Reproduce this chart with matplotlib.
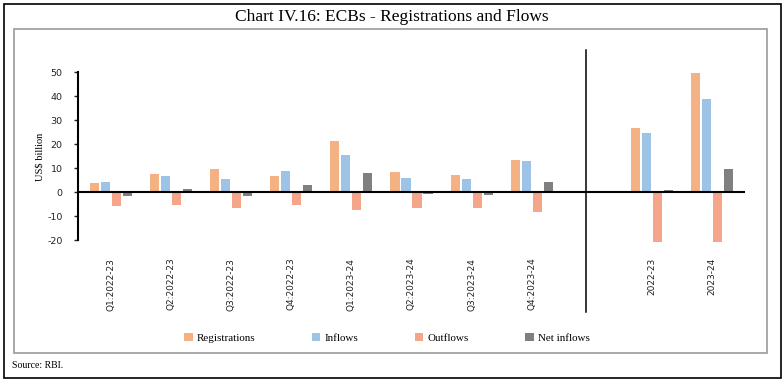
import matplotlib.pyplot as plt
from matplotlib.patches import Rectangle
from matplotlib.lines import Line2D
import numpy as np

plt.rcParams['axes.unicode_minus'] = False

# Data (US$ billion)
categories = ["Q1:2022-23", "Q2:2022-23", "Q3:2022-23", "Q4:2022-23",
              "Q1:2023-24", "Q2:2023-24", "Q3:2023-24", "Q4:2023-24",
              "", "2022-23", "2023-24"]
registrations = [3.9, 7.4, 9.6, 6.5, 21.4, 8.2, 7.2, 13.3, 0, 26.8, 49.7]
inflows = [4.3, 6.8, 5.3, 8.6, 15.4, 5.8, 5.3, 12.8, 0, 24.6, 38.9]
outflows = [-6.0, -5.6, -6.7, -5.6, -7.6, -6.5, -6.5, -8.5, 0, -20.7, -20.7]
net_inflows = [-1.7, 1.1, -1.7, 3.1, 7.8, -0.8, -1.4, 4.2, 0, 0.7, 9.7]

series = [("Registrations", registrations, "#F4B183"),
          ("Inflows", inflows, "#9DC3E6"),
          ("Outflows", outflows, "#F4A58A"),
          ("Net inflows", net_inflows, "#808080")]

fig = plt.figure(figsize=(7.84, 3.82), dpi=100)
W, H = 784, 382

# outer border and inner grey box
fig.patches.append(Rectangle((4 / W, 1 - 378 / H), 777 / W, 374 / H, transform=fig.transFigure,
                             fill=False, edgecolor="black", lw=1.2))
fig.patches.append(Rectangle((14 / W, 1 - 353 / H), 753 / W, 324 / H, transform=fig.transFigure,
                             fill=False, edgecolor="#999999", lw=1.2))

# y range -21..50 -> 72 px .. 242.4 px
ax = fig.add_axes([78 / W, 1 - 242.4 / H, (745 - 78) / W, (242.4 - 72) / H])
x = np.arange(len(categories))
width = 0.15
step = 0.183
for i, (name, vals, col) in enumerate(series):
    ax.bar(x + (i - 1.5) * step, vals, width, color=col, label=name)

ax.axhline(0, color="black", lw=1.5)
ax.set_xlim(-0.55, 10.55)
ax.set_ylim(-21, 50)
ax.set_yticks(range(-20, 51, 10))
ax.set_xticks(x)
ax.set_xticklabels(categories, rotation=90, fontsize=6.5, color="#222222", va="top")
ax.tick_params(axis="x", length=0, pad=11)
ax.tick_params(axis="y", labelsize=6.8, length=3, width=1, direction="out", pad=8, colors="#222222")
for s in ["top", "right", "bottom"]:
    ax.spines[s].set_visible(False)
ax.spines["left"].set_linewidth(1.5)
ax.spines["left"].set_bounds(-20, 50)
ax.set_ylabel("US$ billion", family="Liberation Serif", fontsize=7.5, labelpad=2)

# divider between quarterly and annual data
fig.add_artist(Line2D([586 / W, 586 / W], [1 - 50 / H, 1 - 312 / H], color="black", lw=1.1))

fig.text(0.5, 1 - 17 / H, "Chart IV.16: ECBs - Registrations and Flows", ha="center", va="center",
         family="Liberation Serif", fontsize=12.5)
fig.legend(loc="center", bbox_to_anchor=(0.4936, 1 - 338 / H), ncol=4, frameon=False,
           prop={"family": "Liberation Serif", "size": 7.9}, handlelength=0.8, handleheight=0.8,
           handletextpad=0.4, columnspacing=5.1)
fig.text(12 / W, 1 - 365 / H, "Source: RBI.", ha="left", va="center",
         family="Liberation Serif", fontsize=7)

fig.savefig("out.png", dpi=100)
